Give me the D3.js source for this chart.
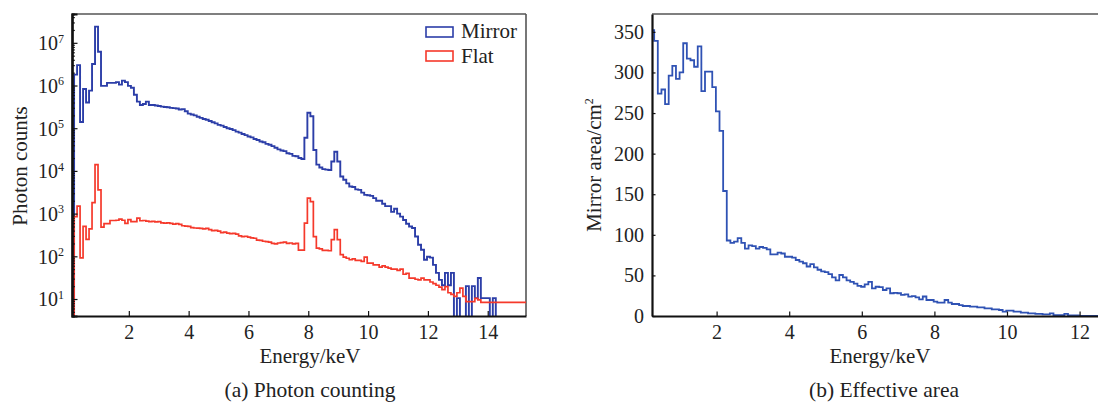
<!DOCTYPE html>
<html>
<head>
<meta charset="utf-8">
<script src="https://cdn.jsdelivr.net/npm/d3@7/dist/d3.min.js"></script>
<style>
  body{margin:0;background:#fff;}
  text{font-family:"Liberation Serif","Times New Roman",serif;fill:#222;}
</style>
</head>
<body>
<svg id="fig" width="1098" height="402"></svg>
<script>
// histogram bins: 0.1 keV wide
const binW=0.1;
const countLo=0.17;   // first bin edge of the photon counting spectra (keV)
const areaLo=0.18;    // first bin edge of the effective area curve (keV)

const mirrorCounts=[
  1.8e6,3.0e6,1.4e5,8.3e5,4.0e5,7.6e5,3.2e6,2.4e7,6.2e6,9.8e5,
  9.8e5,1.15e6,1.15e6,1.15e6,1.2e6,1.05e6,1.3e6,1.2e6,9.8e5,8.9e5,
  6.1e5,4.2e5,3.5e5,3.7e5,4.2e5,3.5e5,3.5e5,3.4e5,3.3e5,3.2e5,
  3.15e5,3.1e5,3.0e5,2.95e5,2.9e5,2.75e5,2.8e5,2.5e5,2.2e5,2.1e5,
  2.0e5,1.85e5,1.75e5,1.65e5,1.58e5,1.48e5,1.38e5,1.3e5,1.2e5,1.15e5,
  1.07e5,1.0e5,9.6e4,9.0e4,8.3e4,7.9e4,7.3e4,6.9e4,6.4e4,6.1e4,
  5.6e4,5.3e4,4.9e4,4.7e4,4.3e4,4.1e4,3.8e4,3.5e4,3.2e4,3.0e4,
  2.9e4,2.6e4,2.5e4,2.25e4,2.2e4,2.0e4,1.9e4,6.0e4,2.3e5,1.9e5,
  3.1e4,1.4e4,1.2e4,1.1e4,1.07e4,1.05e4,1.66e4,2.8e4,1.66e4,7.4e3,
  6.2e3,5.1e3,4.3e3,4.2e3,3.7e3,3.6e3,3.1e3,2.75e3,2.7e3,2.6e3,
  2.3e3,2.0e3,2.0e3,1.7e3,1.5e3,1.5e3,1.1e3,1.3e3,1.0e3,850,
  710,580,500,460,290,186,142,83,98,93,
  63,41,28,21,41,21,41,0,10.5,0,
  0,20,0,20,10.5,31,10.5,10.5,10.5,0,10.5
];
const flatCounts=[
  850,1500,92,500,250,440,1800,1.4e4,3600,480,
  580,580,690,690,700,740,700,590,720,650,
  650,780,680,690,670,650,660,640,650,610,
  600,610,590,570,580,560,520,510,500,470,
  460,455,450,440,450,420,400,405,390,360,
  370,350,340,345,330,300,290,295,280,270,
  265,240,235,225,220,215,200,195,205,210,
  215,200,205,195,200,140,140,600,2300,1900,
  290,155,150,138,138,135,245,420,245,110,
  96,90,83,87,80,80,76,96,69,69,
  63,63,56,60,56,53,50,50,47,50,
  38,40,31,31,29,28,31,28,28,25,
  23,21,19,16.6,19.5,14,12.8,11.5,14,18,
  11.5,8.7,8.7,8.7,10.4,9.5,8.3,8.3,8.3,8.3,
  8.3,8.3,8.3,8.3,8.3,8.3,8.3,8.3,8.3,8.3,8.3,8.3
];
const mirrorArea=[
  352,339,274,279,261,296,308,292,300,336,
  317,315,307,332,277,301,301,282,252,228,
  154,93,90,91.5,96,90,83,87,86,83,
  85,84,82,76,76,78,77,73,73,72,
  69,67,65,61,64,60,57,55,54,51.7,
  47.6,44,50.5,47.6,44,42,40,37,36,39,
  42,34,36,35.5,32,34,28,28.5,28,26,
  26.7,23.8,24.5,23,20.5,24,19.7,19.7,17.6,16.4,
  16.4,19.7,16.4,14.8,14.8,13.5,12.3,12.3,11.5,11.5,
  10.7,10.7,9.4,9.4,8.2,8.2,7.4,5.3,6.6,6.6,
  5.3,5.3,4.1,4.1,3.3,3.3,2.5,2.5,2,2,
  3.3,1.2,1.2,1.2,2.5,0.8,0.8,0.8,0,0,
  0,0,0,0,0
];
const countXTicks=[2,4,6,8,10,12,14];
const countYTicks=[1e1,1e2,1e3,1e4,1e5,1e6,1e7];
const areaXTicks=[2,4,6,8,10,12];
const areaYTicks=[0,50,100,150,200,250,300,350];
const legendNames=["Mirror","Flat"];

const blue="#2c3ea8", red="#f5392b", blue2="#2f52b4";
const svg=d3.select("#fig");

// turn a list of bin heights into stepped points, dropping to `floor` at both ends
function stepPoints(lo,vals,floor){
    const pts=[[lo,floor]];
    vals.forEach(function(v,i){ pts.push([lo+i*binW, v>0?v:floor]); });
    const last=vals[vals.length-1];
    pts.push([lo+vals.length*binW, last>0?last:floor]);
    pts.push([lo+vals.length*binW, floor]);
    return pts;
}

function frame(g,x0,x1,y0,y1){
    g.append("line").attr("x1",x0).attr("x2",x1).attr("y1",y0).attr("y2",y0)
        .attr("stroke","#555").attr("stroke-width",1.6);
    g.append("line").attr("x1",x1).attr("x2",x1).attr("y1",y0).attr("y2",y1)
        .attr("stroke","#555").attr("stroke-width",1.6);
}

function styleAxis(g){
    g.select(".domain").attr("stroke","#111").attr("stroke-width",2.2);
    g.selectAll(".tick line").attr("stroke","#111").attr("stroke-width",1.2);
    g.selectAll(".tick text").attr("font-size",20).attr("fill","#222")
        .attr("font-family","Liberation Serif, serif");
}

// ---------- (a) photon counting ----------
const A={left:72,right:526,top:14,bottom:316};
const xa=d3.scaleLinear().domain([0.1,15.28]).range([A.left,A.right]);
const ya=d3.scaleLog().domain([4.0,4.73e7]).range([A.bottom,A.top]);

svg.append("clipPath").attr("id","clipA").append("rect")
    .attr("x",A.left).attr("y",A.top).attr("width",A.right-A.left).attr("height",A.bottom-A.top);

frame(svg.append("g"),A.left,A.right,A.top,A.bottom);

const lineA=d3.line().x(d=>xa(d[0])).y(d=>ya(d[1])).curve(d3.curveStepAfter);
const histA=svg.append("g").attr("clip-path","url(#clipA)");
histA.append("path").datum(stepPoints(countLo,mirrorCounts,1))
    .attr("d",lineA).attr("fill","none").attr("stroke",blue).attr("stroke-width",1.9);
histA.append("path").datum(stepPoints(countLo,flatCounts,1))
    .attr("d",lineA).attr("fill","none").attr("stroke",red).attr("stroke-width",1.7);

// minor log ticks
const minorA=ya.ticks().filter(v=>countYTicks.indexOf(v)<0);
svg.append("g").attr("transform","translate("+A.left+",0)")
    .call(d3.axisLeft(ya).tickValues(minorA).tickSize(-2.8).tickFormat(""))
    .call(styleAxis);
const yAxA=svg.append("g").attr("transform","translate("+A.left+",0)")
    .call(d3.axisLeft(ya).tickValues(countYTicks).tickSize(-5.5).tickPadding(8).tickFormat(""))
    .call(styleAxis);
yAxA.selectAll(".tick text").each(function(v){
    const t=d3.select(this).attr("dy","0.34em");
    t.append("tspan").text("10");
    t.append("tspan").text(Math.round(Math.log10(v))).attr("font-size",12).attr("dy","-0.62em");
});

svg.append("g").attr("transform","translate(0,"+A.bottom+")")
    .call(d3.axisBottom(xa).tickValues(countXTicks).tickSize(-5).tickPadding(9).tickSizeOuter(0))
    .call(styleAxis);

// legend
const leg=svg.append("g");
legendNames.forEach(function(name,i){
    leg.append("rect").attr("x",426).attr("y",27+i*24).attr("width",27).attr("height",10)
        .attr("fill","white").attr("stroke",i==0?blue:red).attr("stroke-width",1.6);
    leg.append("text").attr("x",461).attr("y",38+i*24.5).attr("font-size",21).text(name);
});

svg.append("text").attr("x",310).attr("y",363).attr("text-anchor","middle")
    .attr("font-size",21).text("Energy/keV");
svg.append("text").attr("transform","translate(27,166) rotate(-90)").attr("text-anchor","middle")
    .attr("font-size",21).text("Photon counts");
svg.append("text").attr("x",310).attr("y",397).attr("text-anchor","middle")
    .attr("font-size",21.5).text("(a) Photon counting");

// ---------- (b) effective area ----------
const B={left:652,right:1105,top:14,bottom:316};
const xb=d3.scaleLinear().domain([0.22,12.7]).range([B.left,B.right]);
const yb=d3.scaleLinear().domain([0,372]).range([B.bottom,B.top]);

svg.append("clipPath").attr("id","clipB").append("rect")
    .attr("x",B.left).attr("y",B.top).attr("width",B.right-B.left).attr("height",B.bottom-B.top);

frame(svg.append("g"),B.left,B.right,B.top,B.bottom);

const lineB=d3.line().x(d=>xb(d[0])).y(d=>yb(d[1])).curve(d3.curveStepAfter);
svg.append("g").attr("clip-path","url(#clipB)")
    .append("path").datum(stepPoints(areaLo,mirrorArea,0))
    .attr("d",lineB).attr("fill","none").attr("stroke",blue2).attr("stroke-width",1.8);

svg.append("g").attr("transform","translate("+B.left+",0)")
    .call(d3.axisLeft(yb).tickValues(areaYTicks).tickSize(-3.5).tickPadding(8).tickSizeOuter(0))
    .call(styleAxis);
svg.append("g").attr("transform","translate(0,"+B.bottom+")")
    .call(d3.axisBottom(xb).tickValues(areaXTicks).tickSize(-4.5).tickPadding(9).tickSizeOuter(0))
    .call(styleAxis);

svg.append("text").attr("x",880).attr("y",363).attr("text-anchor","middle")
    .attr("font-size",21).text("Energy/keV");
const yl=svg.append("text").attr("transform","translate(601,165) rotate(-90)").attr("text-anchor","middle")
    .attr("font-size",21);
yl.append("tspan").text("Mirror area/cm");
yl.append("tspan").text("2").attr("font-size",12).attr("dy","-0.7em");
svg.append("text").attr("x",884).attr("y",397).attr("text-anchor","middle")
    .attr("font-size",21.5).text("(b) Effective area");
</script>
</body>
</html>
